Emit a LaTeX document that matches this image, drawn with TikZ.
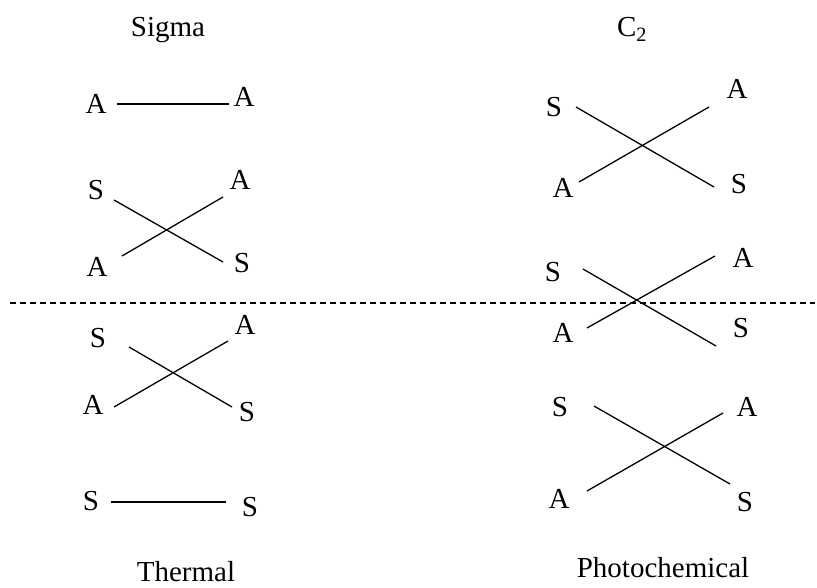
\documentclass[tikz,border=0pt]{standalone}
\usepackage{fontspec}
\setmainfont{Liberation Serif}
\begin{document}
\begin{tikzpicture}[x=1pt,y=-1pt,
  lbl/.style={inner sep=0pt, font=\fontsize{29}{31}\selectfont},
  ttl/.style={inner sep=0pt, anchor=base, font=\fontsize{29}{31}\selectfont},
  ln/.style={line width=1.3pt},
  sep/.style={line width=1.2pt, dash pattern=on 6pt off 4pt}]
\useasboundingbox (0,0) rectangle (817,588);
% titles
\node[ttl] (sigma) at (168,37) {Sigma};
\node[ttl] (ctwo) at (632,37) {C\textsubscript{2}};
\node[ttl] (thermal) at (186,581) {Thermal};
\node[ttl] (photo) at (663,577) {Photochemical};
% separator
\coordinate (d1) at (10,303);
\coordinate (d2) at (815,303);
\draw[sep] (d1) -- (d2);
% ---- left column ----
% row 1
\node[lbl] (l1a) at (96,104) {A};
\node[lbl] (l1b) at (244,97) {A};
\coordinate (l1p) at (117,104); \coordinate (l1q) at (229,104);
\draw[ln] (l1p) -- (l1q);
% row 2
\node[lbl] (l2a) at (96,190) {S};
\node[lbl] (l2b) at (240,180) {A};
\node[lbl] (l2c) at (97,267) {A};
\node[lbl] (l2d) at (242,263) {S};
\coordinate (l2p) at (114,200); \coordinate (l2q) at (223,262);
\coordinate (l2r) at (122,256); \coordinate (l2s) at (223,197);
\draw[ln] (l2p) -- (l2q);
\draw[ln] (l2r) -- (l2s);
% row 3
\node[lbl] (l3a) at (98,338) {S};
\node[lbl] (l3b) at (245,325) {A};
\node[lbl] (l3c) at (93,405) {A};
\node[lbl] (l3d) at (247,412) {S};
\coordinate (l3p) at (129,347); \coordinate (l3q) at (232,407);
\coordinate (l3r) at (114,407); \coordinate (l3s) at (228,341);
\draw[ln] (l3p) -- (l3q);
\draw[ln] (l3r) -- (l3s);
% row 4
\node[lbl] (l4a) at (91,501) {S};
\node[lbl] (l4b) at (250,507) {S};
\coordinate (l4p) at (111,502); \coordinate (l4q) at (226,502);
\draw[ln] (l4p) -- (l4q);
% ---- right column ----
% row 1
\node[lbl] (r1a) at (554,107) {S};
\node[lbl] (r1b) at (737,89) {A};
\node[lbl] (r1c) at (563,188) {A};
\node[lbl] (r1d) at (739,184) {S};
\coordinate (r1p) at (576,107); \coordinate (r1q) at (714,187);
\coordinate (r1r) at (579,182); \coordinate (r1s) at (709,107);
\draw[ln] (r1p) -- (r1q);
\draw[ln] (r1r) -- (r1s);
% row 2
\node[lbl] (r2a) at (553,272) {S};
\node[lbl] (r2b) at (743,258) {A};
\node[lbl] (r2c) at (563,333) {A};
\node[lbl] (r2d) at (741,328) {S};
\coordinate (r2p) at (583,269); \coordinate (r2q) at (716,346);
\coordinate (r2r) at (587,328); \coordinate (r2s) at (715,256);
\draw[ln] (r2p) -- (r2q);
\draw[ln] (r2r) -- (r2s);
% row 3
\node[lbl] (r3a) at (560,407) {S};
\node[lbl] (r3b) at (747,407) {A};
\node[lbl] (r3c) at (559,499) {A};
\node[lbl] (r3d) at (745,502) {S};
\coordinate (r3p) at (594,406); \coordinate (r3q) at (730,484);
\coordinate (r3r) at (587,491); \coordinate (r3s) at (723,413);
\draw[ln] (r3p) -- (r3q);
\draw[ln] (r3r) -- (r3s);
\end{tikzpicture}
\end{document}
